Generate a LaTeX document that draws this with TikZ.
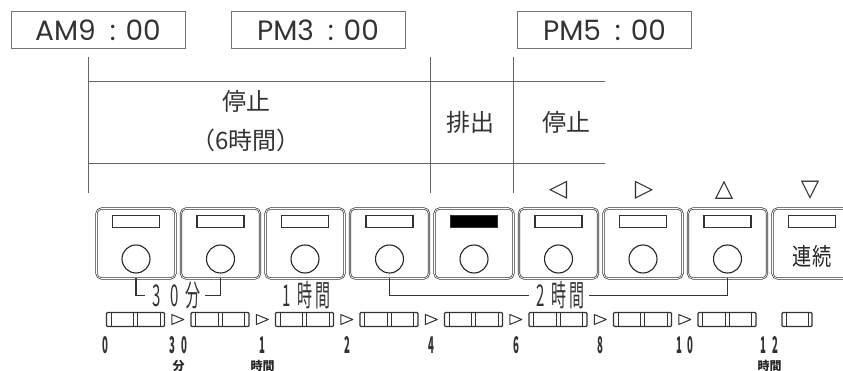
\documentclass[tikz,border=0pt]{standalone}
\usepackage{fontspec}
\setmainfont{Noto Sans CJK JP}
\newfontfamily\symfont{DejaVu Sans}
\newfontfamily\clockfont{Poppins}
\usetikzlibrary{shapes.geometric,positioning,calc}
\newcommand\narrowch[2][18pt]{\makebox[#1]{\scalebox{0.5}[1]{#2}}}
\newcommand\nd[1]{\makebox[11.5pt]{\scalebox{0.42}[1]{#1}}}
\newcommand\clocktime[2]{#1\hspace{0.5em}:\hspace{0.35em}#2}
\begin{document}
\begin{tikzpicture}[x=1pt,y=-1pt,
    every node/.style={inner sep=0pt,outer sep=0pt,minimum size=0pt},
    timebox/.style={draw=black!55,line width=0.9pt,minimum width=174pt,
      minimum height=37pt,font=\clockfont\fontsize{28}{28}\selectfont,text=black!80},
    frameline/.style={draw=black!60,line width=0.9pt},
    toptext/.style={font=\fontsize{24}{24}\selectfont,text=black!80},
    symtext/.style={font=\symfont\fontsize{24}{24}\selectfont,text=black!80},
    keybox/.style={draw=black!80,line width=0.7pt,double=white,double distance=0.7pt,
      rounded corners=5pt,minimum width=79pt,minimum height=70pt},
    lampbox/.style={draw=black!80,line width=1.3pt,
      minimum width=47pt,minimum height=12pt},
    knob/.style={draw=black!85,line width=1.1pt,circle,minimum size=28pt},
    barbox/.style={draw=black!80,line width=1.1pt,
      rounded corners=1pt,minimum height=14pt},
    barline/.style={draw=black!80,line width=0.9pt},
    steparrow/.style={draw=black!80,line width=1pt,line join=round},
    cadlabel/.style={font=\fontsize{30}{30}\selectfont,text=black!80,inner xsep=3pt},
    numlabel/.style={font=\fontsize{23}{23}\selectfont\bfseries,text=black!80},
    unitlabel/.style={font=\fontsize{12}{12}\selectfont\bfseries,text=black!85},
    bracket/.style={draw=black!80,line width=1.1pt}
    ]
    \useasboundingbox (0,0) rectangle (843,371);
    \clip (0,0) rectangle (843,371);
    \node[timebox] at(98,30)(am9){\clocktime{AM9}{00}};
    \node[timebox] at(318,30)(pm3){\clocktime{PM3}{00}};
    \node[timebox] at(604.5,30)(pm5){\clocktime{PM5}{00}};
    \coordinate (fa) at (88,57);
    \coordinate (fb) at (430,57);
    \coordinate (fc) at (513,57);
    \draw[frameline] (fa)--++(0,136);
    \draw[frameline] (fb)--++(0,136);
    \draw[frameline] (fc)--++(0,136);
    \draw[frameline] ([yshift=-24pt]fa)--++(517,0);
    \draw[frameline] ([yshift=-106pt]fa)--++(517,0);
    \node[toptext] at(246,101)(stoplong){停止};
    \node[toptext] at(246,140)(sixhours){（6時間）};
    \node[toptext] at(470,122)(drain){排出};
    \node[toptext] at(566,122)(stopshort){停止};
    \node[symtext] at(558,190)(symleft){◁};
    \node[symtext] at(644,190)(symright){▷};
    \node[symtext] at(724,190)(symup){△};
    \node[symtext] at(810,190)(symdown){▽};
    \foreach \i in {1,...,9}{
      \pgfmathsetmacro\cx{136+84.5*(\i-1)}
      \node[keybox] at(\cx,243.5)(btn\i){};
      \node[lampbox] at(\cx,221.5)(lamp\i){};
    }
    \foreach \i in {1,...,8}{
      \pgfmathsetmacro\cx{136+84.5*(\i-1)}
      \node[knob] at(\cx,259)(knob\i){};
    }
    \node[lampbox,fill=black] at(lamp5){};
    \node[font=\fontsize{24}{24}\selectfont,text=black!85] at(812,256)(cont)
    {\scalebox{0.8}[1]{連続}};
    \node[cadlabel] at(175,295.5)(halfhour){\narrowch{3}\narrowch{0}\narrowch{分}};
    \node[cadlabel] at(305,295.5)(onehour){\narrowch{1}\narrowch{時}\narrowch{間}};
    \node[cadlabel] at(559,295.5)(twohour){\narrowch{2}\narrowch{時}\narrowch{間}};
    \draw[bracket] (btn1.south) |- (halfhour.west);
    \draw[bracket] (halfhour.east) -| (btn2.south);
    \draw[bracket] (btn4.south) |- (twohour.west);
    \draw[bracket] (twohour.east) -| (btn8.south);
    \foreach \k in {1,...,8}{
      \pgfmathsetmacro\bx{135.5+84.5*(\k-1)}
      \node[barbox,minimum width=58pt] at(\bx,319.5)(bar\k){};
      \draw[barline] ([xshift=4.5pt]bar\k.north west)--([xshift=4.5pt]bar\k.south west);
      \draw[barline] ([xshift=-4.5pt]bar\k.north east)--([xshift=-4.5pt]bar\k.south east);
      \draw[barline] ([xshift=-2pt]bar\k.north)--([xshift=-2pt]bar\k.south);
      \draw[barline] ([xshift=2pt]bar\k.north)--([xshift=2pt]bar\k.south);
    }
    \node[barbox,minimum width=30pt] at(797,319.5)(barend){};
    \draw[barline] ([xshift=4pt]barend.north west)--([xshift=4pt]barend.south west);
    \draw[barline] ([xshift=-4pt]barend.north east)--([xshift=-4pt]barend.south east);
    \foreach \k [evaluate=\k as \n using int(\k+1)] in {1,...,7}{
      \coordinate (arr\k) at ($(bar\k.east)!0.5!(bar\n.west)$);
      \draw[steparrow] ([xshift=-6pt,yshift=5pt]arr\k)--([xshift=6pt]arr\k)
      --([xshift=-6pt,yshift=-5pt]arr\k)--cycle;
    }
    \foreach \v/\x/\t in {0/105.5/\nd0,30/178.5/\nd3\nd0,1/262.5/\nd1,2/347/\nd2,
      4/431.5/\nd4,6/516/\nd6,8/600.5/\nd8,10/685/\nd1\nd0,12/769.5/\nd1\nd2}{
      \node[numlabel] at(\x,345)(num\v){\t};
    }
    \node[unitlabel,below=7pt of num30](unitmin){分};
    \node[unitlabel,below=7pt of num1](unithour){時間};
    \node[unitlabel,below=7pt of num12](unithourend){時間};
  \end{tikzpicture}
\end{document}
